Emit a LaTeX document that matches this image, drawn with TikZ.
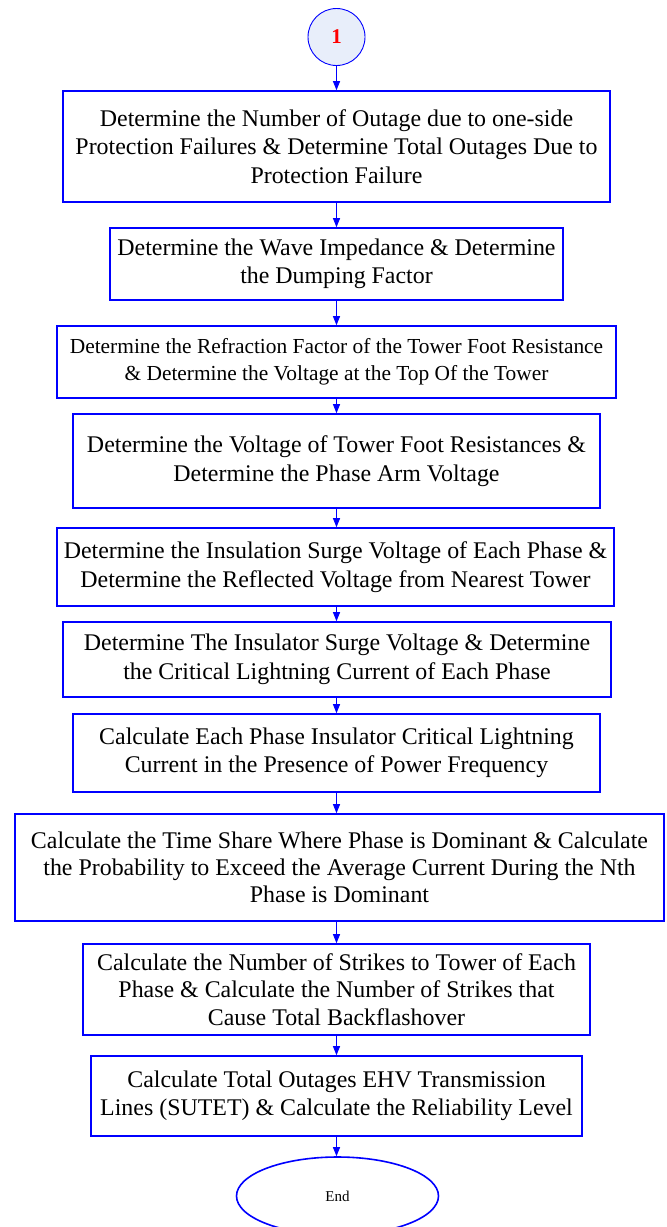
\documentclass[tikz,border=0pt]{standalone}
\usepackage{fontspec}
\setmainfont{Liberation Serif}
\usetikzlibrary{arrows.meta,shapes.geometric}
\definecolor{bblue}{RGB}{0,0,255}
\definecolor{cfill}{RGB}{232,238,250}
\begin{document}
\begin{tikzpicture}[x=1pt,y=-1pt,
  box/.style={draw=bblue,line width=1.6pt,rectangle,align=center,inner sep=0pt,
    font=\fontsize{23.9}{28.5}\selectfont},
  smallbox/.style={box,font=\fontsize{21.4}{27}\selectfont},
  conn/.style={draw=bblue,line width=0.9pt,-{Triangle[length=9pt,width=7pt]}}]
\useasboundingbox (0,0) rectangle (667,1227);
\node[circle,draw=bblue,line width=0.9pt,fill=cfill,minimum size=57pt,inner sep=0pt,
  text=red,font=\fontsize{21}{26}\selectfont\bfseries] (s) at (336.5,37) {1};
\node[box,minimum width=547pt,minimum height=111pt] (b1) at (336.5,146.5)
  {Determine the Number of Outage due to one-side\\Protection Failures \& Determine Total Outages Due to\\Protection Failure};
\node[box,minimum width=453pt,minimum height=72pt] (b2) at (336.5,264)
  {Determine the Wave Impedance \& Determine\\the Dumping Factor};
\node[smallbox,minimum width=559pt,minimum height=72pt] (b3) at (336.5,362)
  {Determine the Refraction Factor of the Tower Foot Resistance\\\& Determine the Voltage at the Top Of the Tower};
\node[box,minimum width=527pt,minimum height=94pt] (b4) at (336.5,461)
  {Determine the Voltage of Tower Foot Resistances \&\\Determine the Phase Arm Voltage};
\node[box,minimum width=557pt,minimum height=78pt] (b5) at (335.5,567)
  {Determine the Insulation Surge Voltage of Each Phase \&\\Determine the Reflected Voltage from Nearest Tower};
\node[box,minimum width=548pt,minimum height=75pt] (b6) at (337,659.5)
  {Determine The Insulator Surge Voltage \& Determine\\the Critical Lightning Current of Each Phase};
\node[box,minimum width=527pt,minimum height=78pt] (b7) at (336.5,753)
  {Calculate Each Phase Insulator Critical Lightning\\Current in the Presence of Power Frequency};
\node[box,minimum width=649pt,minimum height=107pt,font=\fontsize{23.9}{27}\selectfont] (b8) at (339.5,867.5)
  {Calculate the Time Share Where Phase is Dominant \& Calculate\\the Probability to Exceed the Average Current During the Nth\\Phase is Dominant};
\node[box,minimum width=507pt,minimum height=91pt,font=\fontsize{23.9}{27.5}\selectfont] (b9) at (336.5,989.5)
  {Calculate the Number of Strikes to Tower of Each\\Phase \& Calculate the Number of Strikes that\\Cause Total Backflashover};
\node[box,minimum width=491pt,minimum height=80pt] (b10) at (336.5,1096)
  {Calculate Total Outages EHV Transmission\\Lines (SUTET) \& Calculate the Reliability Level};
\node[ellipse,draw=bblue,line width=1.6pt,minimum width=202pt,minimum height=78pt,inner sep=0pt,
  font=\fontsize{15}{17}\selectfont] (e) at (337.5,1196) {End};
\draw[conn] (s.south) -- (s.south |- b1.north);
\draw[conn] (s.south |- b1.south) -- (s.south |- b2.north);
\draw[conn] (s.south |- b2.south) -- (s.south |- b3.north);
\draw[conn] (s.south |- b3.south) -- (s.south |- b4.north);
\draw[conn] (s.south |- b4.south) -- (s.south |- b5.north);
\draw[conn] (s.south |- b5.south) -- (s.south |- b6.north);
\draw[conn] (s.south |- b6.south) -- (s.south |- b7.north);
\draw[conn] (s.south |- b7.south) -- (s.south |- b8.north);
\draw[conn] (s.south |- b8.south) -- (s.south |- b9.north);
\draw[conn] (s.south |- b9.south) -- (s.south |- b10.north);
\draw[conn] (s.south |- b10.south) -- (s.south |- e.north);
\end{tikzpicture}
\end{document}
